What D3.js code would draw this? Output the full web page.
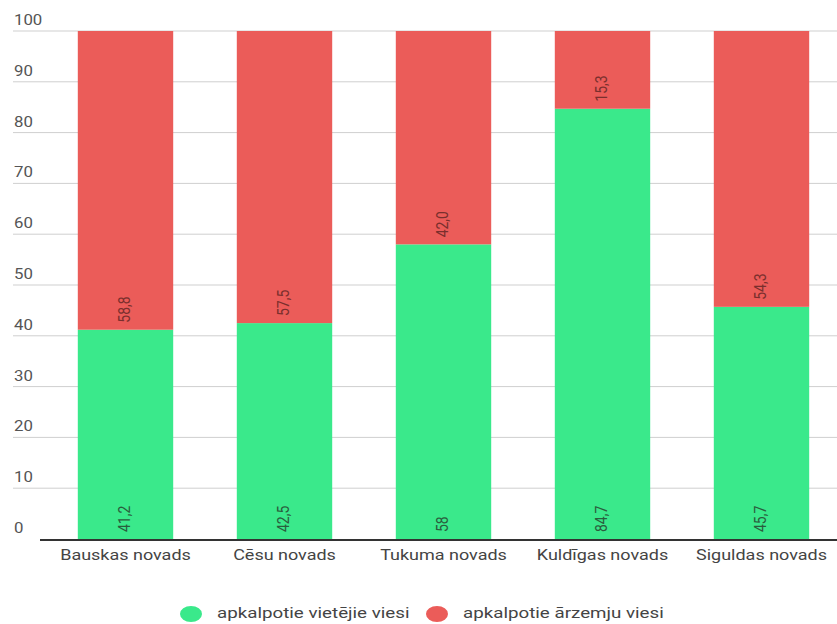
<!DOCTYPE html>
<html><head><meta charset="utf-8">
<script src="https://cdn.jsdelivr.net/npm/d3@7"></script>
<style>body{margin:0;background:#fff}svg{display:block;font-family:Roboto,"Noto Sans",sans-serif}</style>
</head><body><svg id="c" width="837" height="624"></svg>
<script>
const categories = ["Bauskas novads","Cēsu novads","Tukuma novads","Kuldīgas novads","Siguldas novads"];
const localValues = [41.2, 42.5, 58, 84.7, 45.7];
const localLabels = ["41,2","42,5","58","84,7","45,7"];
const foreignValues = [58.8, 57.5, 42.0, 15.3, 54.3];
const foreignLabels = ["58,8","57,5","42,0","15,3","54,3"];
const seriesNames = ["apkalpotie vietējie viesi","apkalpotie ārzemju viesi"];
const yTicks = [0,10,20,30,40,50,60,70,80,90,100];

const green = "#3ae98b", red = "#eb5c59";
const SX = 1.2; // horizontal stretch of text seen in the reference
const svg = d3.select("#c");
const x = d3.scaleBand().domain(categories).range([46, 841]).paddingInner(0.4).paddingOuter(0.2);
const y = d3.scaleLinear().domain([0,100]).range([539, 31]);

// grid
svg.append("g").selectAll("line").data(yTicks.filter(d=>d>0)).join("line")
  .attr("x1", 13).attr("x2", 837).attr("y1", d=>y(d)).attr("y2", d=>y(d))
  .attr("stroke", "#cfcfcf").attr("stroke-width", 1);
svg.append("g").selectAll("text").data(yTicks).join("text")
  .attr("transform", d=>`translate(14,${y(d)-6}) scale(${SX},1)`)
  .attr("font-size", 14).attr("fill", "#555").text(d=>d);

// bars
svg.append("g").selectAll("rect").data(categories).join("rect")
  .attr("x", d=>x(d)).attr("width", x.bandwidth())
  .attr("y", (d,i)=>y(localValues[i])).attr("height", (d,i)=>y(0)-y(localValues[i]))
  .attr("fill", green);
svg.append("g").selectAll("rect").data(categories).join("rect")
  .attr("x", d=>x(d)).attr("width", x.bandwidth())
  .attr("y", (d,i)=>y(localValues[i]+foreignValues[i])).attr("height", (d,i)=>y(localValues[i])-y(localValues[i]+foreignValues[i]))
  .attr("fill", red);

// labels
svg.append("g").selectAll("text").data(categories).join("text")
  .attr("transform", (d,i)=>`translate(${x(d)+x.bandwidth()/2},${y(0)-7}) scale(1.15,1) rotate(-90)`)
  .attr("dominant-baseline","middle").attr("font-size", 14).attr("fill", "#2a5e3e")
  .text((d,i)=>localLabels[i]);
svg.append("g").selectAll("text").data(categories).join("text")
  .attr("transform", (d,i)=>`translate(${x(d)+x.bandwidth()/2},${y(localValues[i])-7}) scale(1.15,1) rotate(-90)`)
  .attr("dominant-baseline","middle").attr("font-size", 14).attr("fill", "#7a2f2d")
  .text((d,i)=>foreignLabels[i]);

// axis line
svg.append("line").attr("x1", 40).attr("x2", 837).attr("y1", y(0)+1).attr("y2", y(0)+1)
  .attr("stroke", "#333").attr("stroke-width", 2);
svg.append("g").selectAll("text").data(categories).join("text")
  .attr("transform", d=>`translate(${x(d)+x.bandwidth()/2},560) scale(${SX},1)`)
  .attr("text-anchor","middle")
  .attr("font-size", 15).attr("fill", "#444").text(d=>d);

// legend
const leg = svg.append("g");
const legX = [191, 437];
seriesNames.forEach((n,i)=>{
  leg.append("ellipse").attr("cx", legX[i]).attr("cy", 614).attr("rx", 11).attr("ry", 8).attr("fill", i? red: green);
  leg.append("text").attr("transform", `translate(${legX[i]+26},618) scale(1.25,1)`)
    .attr("font-size", 15).attr("fill","#444").text(n);
});
</script></body></html>
